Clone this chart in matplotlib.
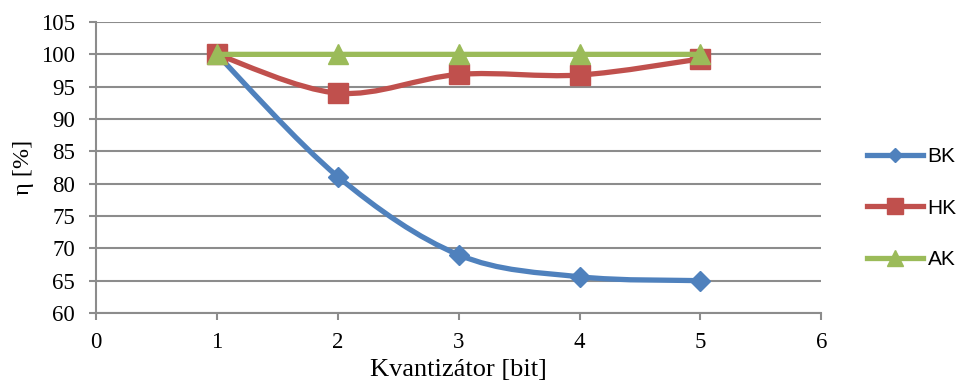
import numpy as np
import matplotlib.pyplot as plt
from matplotlib.path import Path
from matplotlib.patches import PathPatch
from matplotlib.lines import Line2D

bits = [1, 2, 3, 4, 5]
bk = [100, 81.1, 69.0, 65.6, 65.0]
hk = [100, 94.0, 96.9, 96.8, 99.3]
ak = [100, 100, 100, 100, 100]

names = ['BK', 'HK', 'AK']
colors = ['#4F81BD', '#C0504D', '#9BBB59']
markers = ['D', 's', '^']
msize = [10.5, 14, 14]
leg_msize = [7.5, 12, 12]


def smooth_path(x, y):
    # excel-like smoothed line (cardinal bezier)
    p = np.column_stack([x, y]).astype(float)
    pp = np.vstack([p[0], p, p[-1]])
    verts = [p[0]]
    codes = [Path.MOVETO]
    for i in range(len(p) - 1):
        p0, p1, p2, p3 = pp[i], pp[i + 1], pp[i + 2], pp[i + 3]
        c1 = p1 + (p2 - p0) / 6
        c2 = p2 - (p3 - p1) / 6
        verts += [c1, c2, p2]
        codes += [Path.CURVE4] * 3
    return Path(verts, codes)


plt.rcParams['font.family'] = 'Liberation Serif'
fig = plt.figure(figsize=(9.57, 3.89), dpi=100)
ax = fig.add_axes([0.1003, 0.1954, 0.758, 0.748])

gc = '#8C8C8C'
for i, ys in enumerate([bk, hk, ak]):
    patch = PathPatch(smooth_path(bits, ys), fill=False, edgecolor=colors[i],
                      lw=3.8, capstyle='round', zorder=3 + i)
    ax.add_patch(patch)
    ax.plot(bits, ys, linestyle='none', marker=markers[i], color=colors[i],
            markersize=msize[i], zorder=3 + i, clip_on=False)

ax.set_xlim(0, 6)
ax.set_ylim(60, 105)
ax.set_xticks(range(0, 7))
ax.set_yticks(range(60, 106, 5))
ax.yaxis.grid(True, color=gc, lw=1.5)
ax.set_axisbelow(True)
for s in ['top', 'right']:
    ax.spines[s].set_visible(False)
for s in ['left', 'bottom']:
    ax.spines[s].set_color(gc)
    ax.spines[s].set_linewidth(1.5)
ax.tick_params(axis='both', color=gc, width=1.5, length=5, labelsize=16.5)
ax.tick_params(axis='x', pad=9)
ax.tick_params(axis='y', pad=10)

ax.set_xlabel('Kvantizátor [bit]', fontsize=19, labelpad=4)
ax.set_ylabel('η [%]', fontsize=17.5, labelpad=5)

handles = [Line2D([], [], color=colors[i], lw=3.8, marker=markers[i],
                  markersize=leg_msize[i])
           for i in range(3)]
fig.legend(handles, names, loc='center left', bbox_to_anchor=(0.906, 0.465),
           frameon=False, prop={'family': 'Liberation Sans', 'size': 15},
           handlelength=2.7, handletextpad=0.2, labelspacing=1.55,
           borderaxespad=0, borderpad=0)

fig.savefig('out.png', dpi=100)
